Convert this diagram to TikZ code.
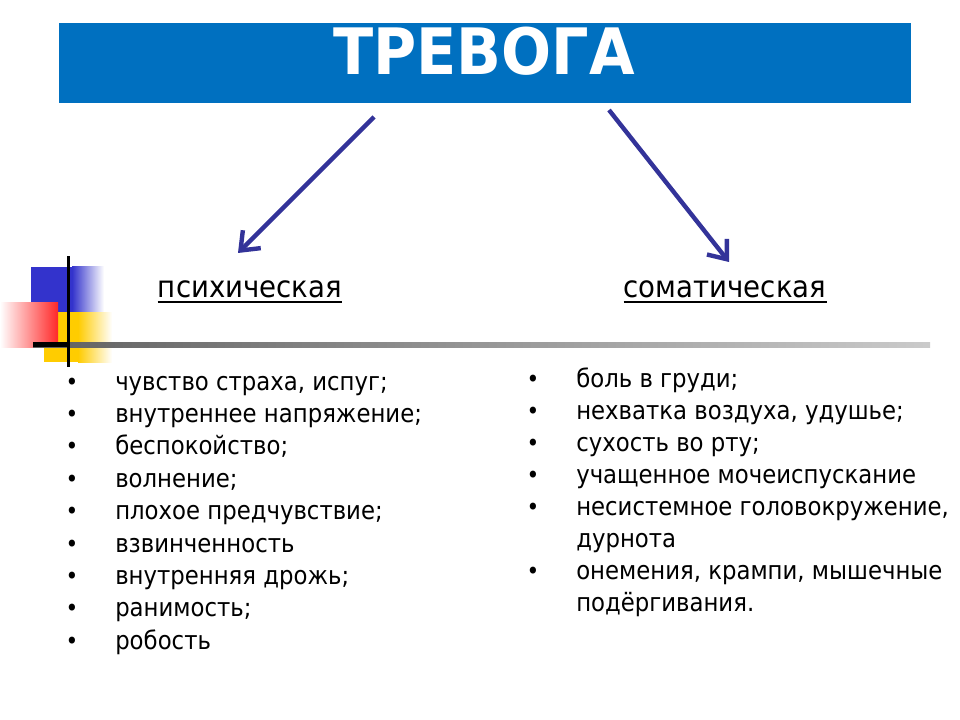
\documentclass[tikz,border=0pt]{standalone}
\usepackage{fontspec}
\setmainfont{DejaVu Sans}[FakeStretch=0.9]
\newfontfamily\titlefont{DejaVu Sans}[FakeStretch=0.92]
\newfontfamily\headfont{DejaVu Sans}[FakeStretch=0.92]
\usetikzlibrary{arrows.meta}
\definecolor{barblue}{RGB}{0,112,192}
\definecolor{arrblue}{RGB}{51,51,153}
\definecolor{sqblue}{RGB}{51,51,204}
\definecolor{sqyellow}{RGB}{255,204,0}
\definecolor{sqred}{RGB}{255,40,40}
\pgfdeclarehorizontalshading{hline}{100bp}{color(0bp)=(black!85); color(25bp)=(black!62); color(60bp)=(black!33); color(100bp)=(white)}
\tikzset{
  titlestyle/.style={anchor=base, inner sep=0pt, text=white, font=\titlefont\bfseries\fontsize{48pt}{56pt}\selectfont},
  headstyle/.style={anchor=base, inner sep=0pt, font=\headfont\fontsize{22.5pt}{27pt}\selectfont},
  itemstyle/.style={anchor=base west, inner sep=0pt, font=\fontsize{19pt}{23pt}\selectfont},
  bulletstyle/.style={anchor=base, inner sep=0pt, font=\fontsize{18pt}{22pt}\selectfont},
  arr/.style={draw=arrblue, line width=3.3pt, -{Straight Barb[length=12pt,width=19pt,line width=3.3pt]}},
  uline/.style={line width=1.6pt},
}
\begin{document}
\begin{tikzpicture}[x=0.75pt,y=-0.75pt]
\useasboundingbox (0,0) rectangle (960,720);
\fill[white] (0,0) rectangle (960,720);
% title bar
\fill[barblue] (59,23) rectangle (911,103);
\node[titlestyle] (title) at (484,75) {ТРЕВОГА};
% decoration
\fill[sqblue] (31,267) rectangle (72,312);
\shade[left color=sqblue, right color=white] (72,267) rectangle (104,312);
\fill[sqyellow] (44,312) rectangle (78,362);
\shade[left color=sqyellow, right color=white] (78,312) rectangle (112,362);
\shade[left color=white, right color=sqred] (0,303) rectangle (58,347);
\shade[shading=hline] (33,342) rectangle (930,347);
\fill[black] (33,342) rectangle (70,347);
\fill[black] (66.5,256) rectangle (69.5,367);
% headings
\node[headstyle] (h1) at (250,297) {психическая};
\node[headstyle] (h2) at (725,297) {соматическая};
\draw[uline] ([yshift=-4pt]h1.base west) -- ([yshift=-4pt]h1.base east);
\draw[uline] ([yshift=-4pt]h2.base west) -- ([yshift=-4pt]h2.base east);
% arrows
\coordinate (a1s) at (374,117);
\coordinate (a1e) at (238,253);
\coordinate (a2s) at (609,110);
\coordinate (a2e) at (729,262);
\draw[arr] (a1s) -- (a1e);
\draw[arr] (a2s) -- (a2e);
% left list
\foreach \t [count=\i] in {{чувство страха, испуг;},{внутреннее напряжение;},{беспокойство;},{волнение;},{плохое предчувствие;},{взвинченность},{внутренняя дрожь;},{ранимость;},{робость}}{
  \node[bulletstyle] (lb\i) at (72,{390+32.4*(\i-1)}) {•};
  \node[itemstyle] (l\i) at (115,{390+32.4*(\i-1)}) {\t};
}
% right list
\node[bulletstyle] (rb1) at (533,387) {•};
\node[itemstyle] (r1) at (576,387) {боль в груди;};
\node[bulletstyle] (rb2) at (533,419) {•};
\node[itemstyle] (r2) at (576,419) {нехватка воздуха, удушье;};
\node[bulletstyle] (rb3) at (533,451) {•};
\node[itemstyle] (r3) at (576,451) {сухость во рту;};
\node[bulletstyle] (rb4) at (533,483) {•};
\node[itemstyle] (r4) at (576,483) {учащенное мочеиспускание};
\node[bulletstyle] (rb5) at (533,515) {•};
\node[itemstyle] (r5) at (576,515) {несистемное головокружение,};
\node[itemstyle] (r5b) at (576,547) {дурнота};
\node[bulletstyle] (rb6) at (533,579) {•};
\node[itemstyle] (r6) at (576,579) {онемения, крампи, мышечные};
\node[itemstyle] (r6b) at (576,611) {подёргивания.};
\end{tikzpicture}
\end{document}
